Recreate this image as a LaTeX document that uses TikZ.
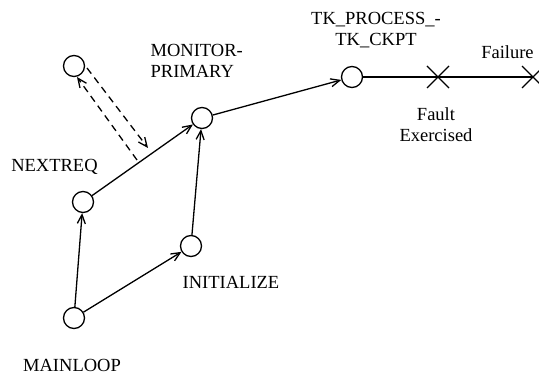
\documentclass[tikz,border=0pt]{standalone}
\usepackage{fontspec}
\setmainfont{Liberation Serif}
\usetikzlibrary{arrows.meta}

\begin{document}
\begin{tikzpicture}[x=1pt,y=-1pt,line width=1.3pt,
  state/.style={circle,draw,minimum size=21pt,inner sep=0pt},
  lbl/.style={font=\fontsize{18.5}{21}\selectfont,inner sep=0pt},
  >={Straight Barb[length=9pt,width=8pt]}]

\useasboundingbox (0,0) rectangle (539,374);

% states
\node [state] (loop)    at (74,318) {};
\node [state] (nextreq) at (83,202) {};
\node [state] (init)    at (191,246) {};
\node [state] (monitor) at (202,118) {};
\node [state] (caller)  at (74,66) {};
\node [state] (ckpt)    at (352,77) {};

\coordinate (fault) at (438,77);
\coordinate (failure) at (533,77);

% names of the states
\node [lbl] (loopname) at (72,365) {MAINLOOP};
\node [lbl] (nextname) at (54.5,167) {NEXTREQ};
\node [lbl] (initname) at (231,282) {INITIALIZE};
\node [lbl,align=left,anchor=west] (monname) at (150,61) {MONITOR-\\PRIMARY};
\node [lbl,align=center] (ckptname) at (376,30.5) {TK\_PROCESS\_-\\TK\_CKPT};
\node [lbl] (failname) at (507.5,52) {Failure};
\node [lbl,align=center,anchor=north] (faultname) at (436,107) {Fault\\Exercised};

% transitions
\draw [->] (loop) -- (nextreq);
\draw [->] (loop) -- (init);
\draw [->] (init) -- (monitor);
\draw [->] (nextreq) -- (monitor);
\draw [->] (monitor) -- (ckpt);

% call and return
\coordinate (callend) at (148,148);
\coordinate (retstart) at (137,160);
\draw [->,dash pattern=on 7pt off 5pt] (87,68) -- (callend);
\draw [->,dash pattern=on 7pt off 5pt] (retstart) -- (77,77);

% fault and failure marks
\draw (ckpt) -- (failure);
\draw (fault) +(-11,-11) -- +(11,11) +(-11,11) -- +(11,-11);
\draw (failure) +(-11,-11) -- +(11,11) +(-11,11) -- +(11,-11);

\end{tikzpicture}
\end{document}
